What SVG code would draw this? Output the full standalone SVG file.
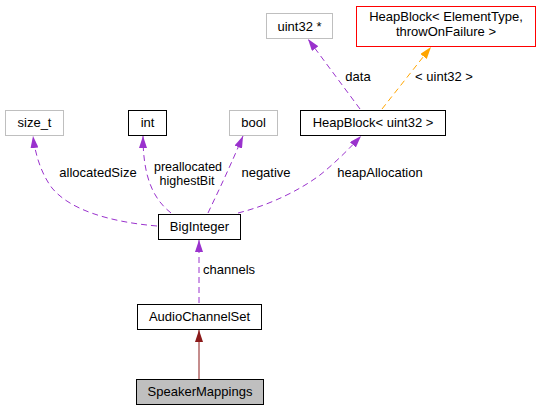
<svg xmlns="http://www.w3.org/2000/svg" width="541" height="411" viewBox="0 0 541 411">
<style>
text{font-family:"Liberation Sans",Arial,sans-serif;font-size:13px;fill:#000}
.n text{text-anchor:middle}
.blk{fill:#fff;stroke:#000;stroke-width:1}
.gry{fill:#fff;stroke:#bfbfbf;stroke-width:1}
.red{fill:#fff;stroke:#ff0000;stroke-width:1}
.sel{fill:#bfbfbf;stroke:#000;stroke-width:1}
.p{fill:none;stroke:#9a32cd;stroke-width:1;stroke-dasharray:6,4;marker-end:url(#ap)}
.o{fill:none;stroke:#ffa500;stroke-width:1;stroke-dasharray:6,4;marker-end:url(#ao)}
.r{fill:none;stroke:#8b1a1a;stroke-width:1;marker-end:url(#ar)}
.lbl{text-anchor:middle}
.sm{font-size:12.5px}
</style>
<defs>
<marker id="ap" viewBox="0 0 12 8" refX="12" refY="4" markerWidth="12" markerHeight="8" markerUnits="userSpaceOnUse" orient="auto"><path d="M0,0 L12,4 L0,8 Z" fill="#9a32cd"/></marker>
<marker id="ao" viewBox="0 0 12 8" refX="12" refY="4" markerWidth="12" markerHeight="8" markerUnits="userSpaceOnUse" orient="auto"><path d="M0,0 L12,4 L0,8 Z" fill="#ffa500"/></marker>
<marker id="ar" viewBox="0 0 12 8" refX="12" refY="4" markerWidth="12" markerHeight="8" markerUnits="userSpaceOnUse" orient="auto"><path d="M0,0 L12,4 L0,8 Z" fill="#8b1a1a"/></marker>
</defs>
<rect width="541" height="411" fill="#fff"/>
<g id="edges">
<path class="p" d="M157,226 C110,222 70,210 52,188 C40,172 35,152 33,136"/>
<path class="p" d="M171,213 C152,198 143,175 143,136"/>
<path class="p" d="M208,213 C215,198 226,176 243,136"/>
<path class="p" d="M238,213 C270,205 300,190 320,175 C335,163 350,148 361,136"/>
<path class="p" d="M360,109 L308,39"/>
<path class="o" d="M382,109 L431,47"/>
<path class="p" d="M199,303 L199,240"/>
<path class="r" d="M199,379 L199,330"/>
<text class="lbl" x="358" y="81">data</text>
<text class="lbl" x="444" y="81">&lt; uint32 &gt;</text>
<text class="lbl" x="98" y="177">allocatedSize</text>
<text class="lbl sm" x="188" y="170.5">preallocated</text>
<text class="lbl sm" x="187" y="184.5">highestBit</text>
<text class="lbl" x="266" y="177">negative</text>
<text class="lbl" x="380" y="177">heapAllocation</text>
<text x="203" y="274">channels</text>
</g>
<g id="uint32ptr" class="n"><rect class="gry" x="266.5" y="13.5" width="66" height="25"/><text x="299.5" y="30.5">uint32 *</text></g>
<g id="heapblock_template" class="n"><rect class="red" x="356.5" y="6.5" width="179" height="40"/><text x="446" y="21">HeapBlock&lt; ElementType,</text><text x="446" y="36">throwOnFailure &gt;</text></g>
<g id="size_t" class="n"><rect class="gry" x="5.5" y="110.5" width="58" height="25"/><text x="34.5" y="127">size_t</text></g>
<g id="int" class="n"><rect class="blk" x="128.5" y="110.5" width="38" height="25"/><text x="147.5" y="127">int</text></g>
<g id="bool" class="n"><rect class="gry" x="229.5" y="110.5" width="48" height="25"/><text x="253.5" y="127">bool</text></g>
<g id="heapblock_uint32" class="n"><rect class="blk" x="300.5" y="110.5" width="145" height="25"/><text x="373" y="127">HeapBlock&lt; uint32 &gt;</text></g>
<g id="biginteger" class="n"><rect class="blk" x="158.5" y="214.5" width="82" height="25"/><text x="199.5" y="231">BigInteger</text></g>
<g id="audiochannelset" class="n"><rect class="blk" x="137.5" y="304.5" width="124" height="25"/><text x="199.5" y="321">AudioChannelSet</text></g>
<g id="speakermappings" class="n"><rect class="sel" x="136.5" y="379.5" width="127" height="25"/><text x="200" y="396">SpeakerMappings</text></g>
</svg>
